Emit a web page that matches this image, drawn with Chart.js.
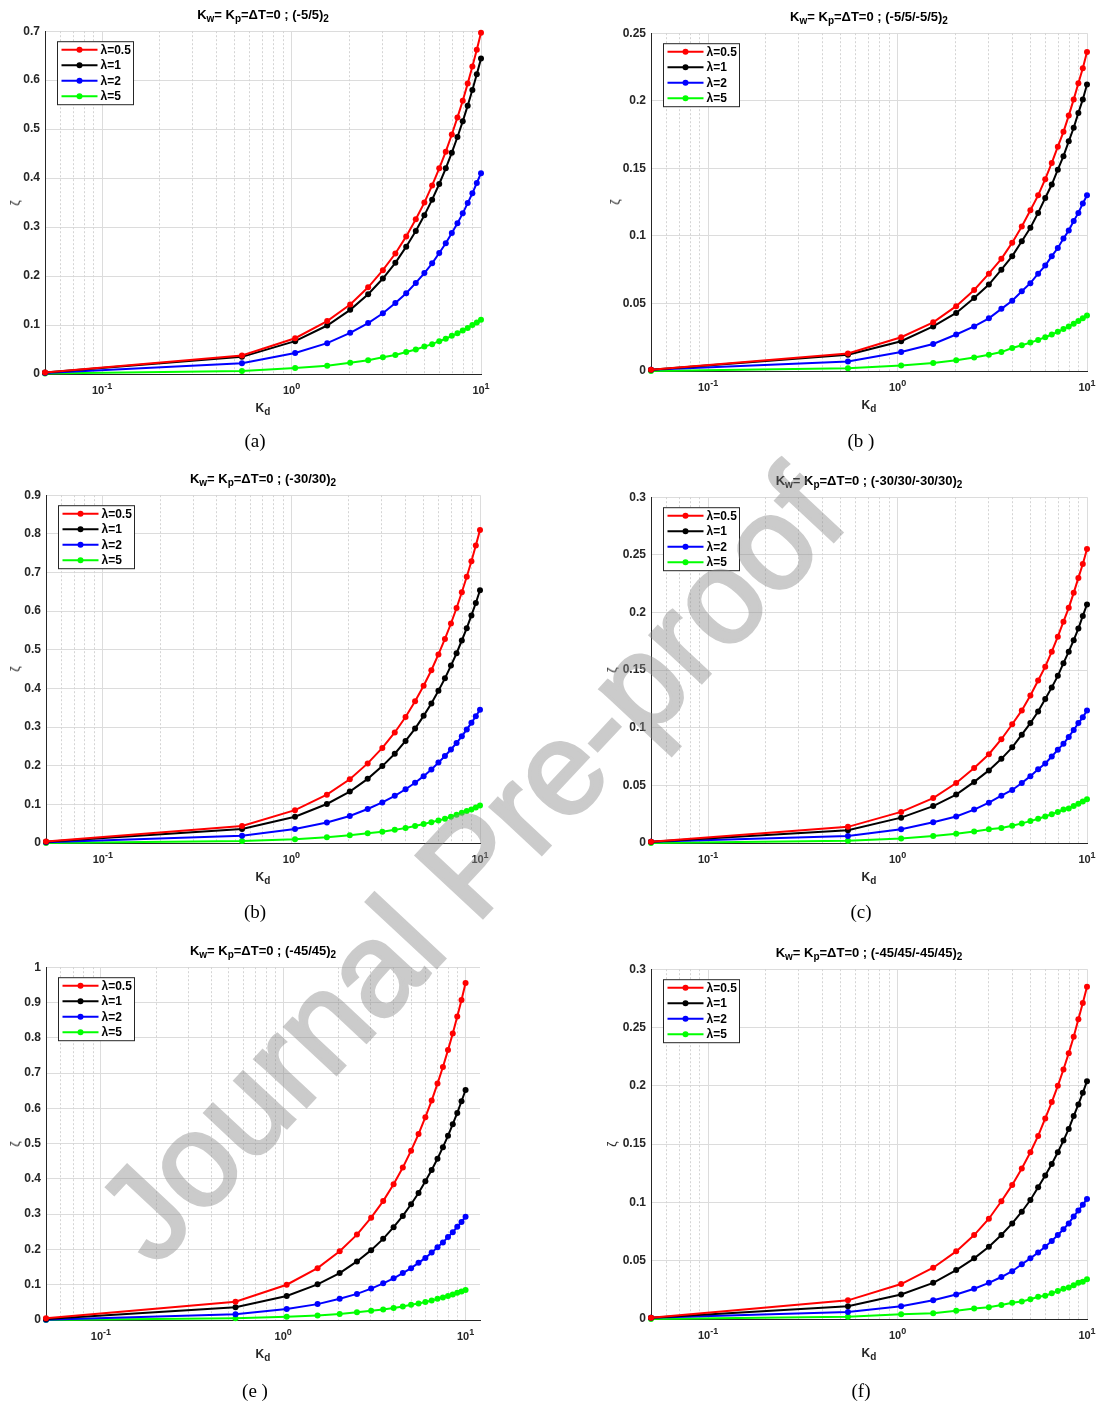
<!DOCTYPE html>
<html>
<head>
<meta charset="utf-8">
<script src="https://cdn.jsdelivr.net/npm/chart.js@4.4.1/dist/chart.umd.min.js"></script>
<style>
  html, body { margin: 0; padding: 0; background: #fff; }
  body { width: 1101px; height: 1408px; position: relative; overflow: hidden;
         font-family: "Liberation Sans", Arial, Helvetica, sans-serif; }
  .panel { position: absolute; }
  .panel canvas { display: block; }
  .ttl { position: absolute; font-weight: bold; font-size: 13px; line-height: 14px; color: #000;
         white-space: nowrap; transform: translateX(-50%); }
  .xl { position: absolute; font-weight: bold; font-size: 12px; line-height: 14px; color: #262626;
        white-space: nowrap; transform: translateX(-50%); }
  .ttl sub, .xl sub { font-size: 10px; vertical-align: -3px; line-height: 0; }
  .yl { position: absolute; font-size: 12px; line-height: 14px; color: #262626;
        transform: translate(-50%, -50%) rotate(-90deg); }
  .cap { position: absolute; font-family: "Liberation Serif", "Times New Roman", serif; font-size: 19px;
         line-height: 22px; color: #000; white-space: pre; transform: translateX(-50%); }
  .wm { position: absolute; left: 470px; top: 865px; font-weight: normal; font-size: 132px; line-height: 1;
        white-space: nowrap; color: rgb(140,140,140); -webkit-text-stroke: 3.5px rgb(140,140,140);
        opacity: 0.45; pointer-events: none;
        transform: translate(-50%, -50%) rotate(-47deg); z-index: 10; }
</style>
</head>
<body>
<div id="fig"></div>
<div class="wm">Journal Pre-proof</div>
<script>
// Kd sample points (shared by every panel)
const kd = [0.05, 0.5475, 1.045, 1.5425, 2.04, 2.5375, 3.035, 3.5325, 4.03, 4.5275, 5.025,
            5.5225, 6.02, 6.5175, 7.015, 7.5125, 8.01, 8.5075, 9.005, 9.5025, 10];

const seriesLabels = ['λ=0.5', 'λ=1', 'λ=2', 'λ=5'];
const layups = ['(-5/5)', '(-5/5/-5/5)', '(-30/30)', '(-30/30/-30/30)', '(-45/45)', '(-45/45/-45/45)'];
const captions = ['(a)', '(b )', '(b)', '(c)', '(e )', '(f)'];

// x-axis decade ticks and their exponents
const xTickValues = [0.1, 1, 10];
const xTickExponents = ['-1', '0', '1'];
const xMinorValues = [0.06, 0.07, 0.08, 0.09, 0.2, 0.3, 0.4, 0.5, 0.6, 0.7, 0.8, 0.9,
                      2, 3, 4, 5, 6, 7, 8, 9];

// y-axis ranges per panel
const yMaxes = [0.7, 0.25, 0.9, 0.3, 1, 0.3];
const ySteps = [0.1, 0.05, 0.1, 0.05, 0.1, 0.05];
const xMaxes = [10, 10, 10, 10, 12, 10];

// zeta values, panel (a) (-5/5)2
const zA_05 = [0.003,0.038,0.073,0.108,0.142,0.177,0.212,0.246,0.281,0.316,0.350,0.385,0.420,0.454,0.489,0.524,0.558,0.593,0.628,0.662,0.697];
const zA_1  = [0.003,0.035,0.067,0.099,0.131,0.163,0.195,0.227,0.260,0.292,0.324,0.356,0.388,0.420,0.452,0.484,0.516,0.548,0.580,0.612,0.644];
const zA_2  = [0.002,0.022,0.043,0.063,0.084,0.104,0.124,0.145,0.165,0.186,0.206,0.226,0.247,0.267,0.288,0.308,0.328,0.349,0.369,0.390,0.410];
const zA_5  = [0.001,0.006,0.012,0.017,0.023,0.028,0.034,0.039,0.045,0.050,0.056,0.061,0.067,0.072,0.078,0.083,0.089,0.094,0.100,0.105,0.111];

// panel (b) (-5/5/-5/5)2
const zB_05 = [0.001,0.013,0.025,0.036,0.048,0.060,0.072,0.083,0.095,0.107,0.119,0.130,0.142,0.154,0.166,0.177,0.189,0.201,0.213,0.224,0.236];
const zB_1  = [0.001,0.012,0.022,0.033,0.043,0.054,0.064,0.075,0.085,0.096,0.106,0.117,0.128,0.138,0.149,0.159,0.170,0.180,0.191,0.201,0.212];
const zB_2  = [0.001,0.007,0.014,0.020,0.027,0.033,0.039,0.046,0.052,0.059,0.065,0.072,0.078,0.085,0.091,0.098,0.104,0.111,0.117,0.124,0.130];
const zB_5  = [0.000,0.002,0.004,0.006,0.008,0.010,0.012,0.014,0.017,0.019,0.021,0.023,0.025,0.027,0.029,0.031,0.033,0.035,0.037,0.039,0.041];

// panel (-30/30)2
const zC_05 = [0.004,0.044,0.085,0.125,0.165,0.206,0.246,0.286,0.326,0.367,0.407,0.447,0.488,0.528,0.568,0.608,0.649,0.689,0.729,0.770,0.810];
const zC_1  = [0.003,0.036,0.068,0.101,0.133,0.166,0.199,0.231,0.264,0.296,0.329,0.361,0.394,0.426,0.459,0.491,0.524,0.556,0.589,0.621,0.654];
const zC_2  = [0.002,0.019,0.036,0.053,0.070,0.088,0.105,0.122,0.139,0.156,0.173,0.190,0.208,0.225,0.242,0.259,0.276,0.294,0.311,0.328,0.345];
const zC_5  = [0.000,0.005,0.010,0.015,0.020,0.025,0.029,0.034,0.039,0.044,0.049,0.054,0.058,0.063,0.068,0.073,0.078,0.083,0.087,0.092,0.097];

// panel (-30/30/-30/30)2
const zD_05 = [0.001,0.014,0.027,0.039,0.052,0.065,0.077,0.090,0.103,0.115,0.128,0.141,0.153,0.166,0.179,0.192,0.204,0.217,0.230,0.242,0.255];
const zD_1  = [0.001,0.011,0.022,0.032,0.042,0.053,0.063,0.073,0.083,0.094,0.104,0.114,0.125,0.135,0.145,0.156,0.166,0.176,0.186,0.197,0.207];
const zD_2  = [0.001,0.006,0.012,0.018,0.023,0.029,0.035,0.041,0.046,0.052,0.058,0.064,0.069,0.075,0.081,0.086,0.092,0.098,0.104,0.109,0.115];
const zD_5  = [0.000,0.002,0.004,0.006,0.008,0.010,0.012,0.013,0.015,0.017,0.019,0.021,0.023,0.025,0.027,0.029,0.030,0.032,0.034,0.036,0.038];

// panel (-45/45)2
const zE_05 = [0.005,0.052,0.100,0.147,0.195,0.242,0.290,0.337,0.385,0.432,0.480,0.527,0.575,0.622,0.670,0.717,0.765,0.812,0.860,0.907,0.955];
const zE_1  = [0.003,0.036,0.068,0.101,0.133,0.166,0.198,0.230,0.263,0.295,0.328,0.360,0.393,0.425,0.457,0.490,0.522,0.555,0.587,0.620,0.652];
const zE_2  = [0.001,0.016,0.031,0.045,0.060,0.074,0.089,0.104,0.118,0.133,0.147,0.162,0.176,0.191,0.206,0.220,0.235,0.249,0.264,0.278,0.293];
const zE_5  = [0.000,0.005,0.009,0.013,0.017,0.022,0.026,0.030,0.034,0.038,0.043,0.047,0.051,0.055,0.060,0.064,0.068,0.072,0.077,0.081,0.085];

// panel (-45/45/-45/45)2
const zF_05 = [0.001,0.016,0.030,0.044,0.058,0.072,0.086,0.101,0.115,0.129,0.143,0.157,0.172,0.186,0.200,0.214,0.228,0.242,0.257,0.271,0.285];
const zF_1  = [0.001,0.011,0.021,0.031,0.042,0.052,0.062,0.072,0.082,0.092,0.102,0.113,0.123,0.133,0.143,0.153,0.163,0.174,0.184,0.194,0.204];
const zF_2  = [0.001,0.006,0.011,0.016,0.021,0.026,0.031,0.036,0.041,0.047,0.052,0.057,0.062,0.067,0.072,0.077,0.082,0.088,0.093,0.098,0.103];
const zF_5  = [0.000,0.002,0.004,0.005,0.007,0.009,0.010,0.012,0.014,0.015,0.017,0.019,0.020,0.022,0.024,0.026,0.027,0.029,0.031,0.032,0.034];

const panelSeries = [
  [zA_05, zA_1, zA_2, zA_5],
  [zB_05, zB_1, zB_2, zB_5],
  [zC_05, zC_1, zC_2, zC_5],
  [zD_05, zD_1, zD_2, zD_5],
  [zE_05, zE_1, zE_2, zE_5],
  [zF_05, zF_1, zF_2, zF_5]
];

// ---- presentation ----
const FONT = '"Liberation Sans", Arial, Helvetica, sans-serif';
const lineColors = ['#ff0000', '#000000', '#0000ff', '#00ff00'];
const AXIS = '#262626';

// plot-area rectangles on the page: [left, top, right, bottom]
const plotRects = [
  [45, 31, 481, 374],
  [651, 33, 1087, 371],
  [46, 495, 480, 843],
  [651, 497, 1087, 843],
  [46, 967, 480, 1320],
  [651, 969, 1087, 1319]
];
const yLabelX = [15, 615, 15, 612, 15, 612];
const captionY = [430, 430, 901, 901, 1380, 1380];

const PAD_L = 45, PAD_T = 12, PAD_R = 14, PAD_B = 30;

const decor = {
  id: 'decor',
  beforeDatasetsDraw(chart) {
    // dotted minor grid lines of the log axis
    const { ctx, chartArea: a } = chart;
    const x = chart.scales.x;
    ctx.save();
    ctx.strokeStyle = '#d4d4d4';
    ctx.lineWidth = 1;
    ctx.setLineDash([2, 2]);
    for (const v of xMinorValues) {
      if (v < x.min || v > x.max) continue;
      const px = Math.round(x.getPixelForValue(v)) + 0.5;
      ctx.beginPath();
      ctx.moveTo(px, a.top);
      ctx.lineTo(px, a.bottom);
      ctx.stroke();
    }
    ctx.restore();
  },
  afterDatasetsDraw(chart) {
    // boxed legend in the upper-left corner of the plot
    const { ctx, chartArea: a } = chart;
    const bx = a.left + 12 + 0.5, by = a.top + 10 + 0.5, bw = 76, bh = 63;
    ctx.save();
    ctx.fillStyle = '#fff';
    ctx.fillRect(bx, by, bw, bh);
    ctx.strokeStyle = AXIS;
    ctx.lineWidth = 1;
    ctx.strokeRect(bx, by, bw, bh);
    chart.data.datasets.forEach((ds, k) => {
      const cy = by + 8 + k * 15.5;
      ctx.strokeStyle = ds.borderColor;
      ctx.lineWidth = 2;
      ctx.beginPath();
      ctx.moveTo(bx + 4, cy);
      ctx.lineTo(bx + 40, cy);
      ctx.stroke();
      ctx.fillStyle = ds.borderColor;
      ctx.beginPath();
      ctx.arc(bx + 22, cy, 3, 0, Math.PI * 2);
      ctx.fill();
      ctx.fillStyle = '#000';
      ctx.font = 'bold 12px ' + FONT;
      ctx.textBaseline = 'middle';
      ctx.textAlign = 'left';
      ctx.fillText(ds.label, bx + 43, cy + 0.5);
    });
    ctx.restore();
  },
  afterDraw(chart) {
    // decade labels 10^n under the x axis
    const { ctx, chartArea: a } = chart;
    const x = chart.scales.x;
    ctx.save();
    ctx.fillStyle = AXIS;
    ctx.textBaseline = 'alphabetic';
    ctx.textAlign = 'left';
    xTickValues.forEach((v, i) => {
      if (v < x.min || v > x.max) return;
      const px = x.getPixelForValue(v);
      ctx.font = 'bold 11px ' + FONT;
      const wb = ctx.measureText('10').width;
      ctx.font = 'bold 9px ' + FONT;
      const we = ctx.measureText(xTickExponents[i]).width;
      const x0 = px - (wb + we) / 2;
      ctx.font = 'bold 11px ' + FONT;
      ctx.fillText('10', x0, a.bottom + 20);
      ctx.font = 'bold 9px ' + FONT;
      ctx.fillText(xTickExponents[i], x0 + wb, a.bottom + 15);
    });
    ctx.restore();
  }
};

const fig = document.getElementById('fig');

panelSeries.forEach((series, p) => {
  const [L, T, R, B] = plotRects[p];
  const W = (R - L) + PAD_L + PAD_R;
  const H = (B - T) + PAD_T + PAD_B;

  const wrap = document.createElement('div');
  wrap.className = 'panel';
  wrap.style.left = (L - PAD_L) + 'px';
  wrap.style.top = (T - PAD_T) + 'px';
  const cv = document.createElement('canvas');
  cv.width = W; cv.height = H;
  cv.style.width = W + 'px'; cv.style.height = H + 'px';
  wrap.appendChild(cv);
  fig.appendChild(wrap);

  const cx = (L + R) / 2;
  const ttl = document.createElement('div');
  ttl.className = 'ttl';
  ttl.style.left = cx + 'px';
  ttl.style.top = (T - 23) + 'px';
  ttl.innerHTML = 'K<sub>w</sub>= K<sub>p</sub>=ΔT=0 ; ' + layups[p] + '<sub>2</sub>';
  fig.appendChild(ttl);

  const xl = document.createElement('div');
  xl.className = 'xl';
  xl.style.left = cx + 'px';
  xl.style.top = (B + 27) + 'px';
  xl.innerHTML = 'K<sub>d</sub>';
  fig.appendChild(xl);

  const yl = document.createElement('div');
  yl.className = 'yl';
  yl.style.left = yLabelX[p] + 'px';
  yl.style.top = ((T + B) / 2) + 'px';
  yl.textContent = 'ζ';
  fig.appendChild(yl);

  const cap = document.createElement('div');
  cap.className = 'cap';
  cap.style.left = (p % 2 === 0 ? 255 : 861) + 'px';
  cap.style.top = captionY[p] + 'px';
  cap.textContent = captions[p];
  fig.appendChild(cap);

  new Chart(cv, {
    type: 'line',
    data: {
      datasets: series.map((vals, k) => ({
        label: seriesLabels[k],
        data: kd.map((xv, i) => ({ x: xv, y: vals[i] })),
        borderColor: lineColors[k],
        backgroundColor: lineColors[k],
        borderWidth: 2,
        pointRadius: 3,
        pointHoverRadius: 3,
        pointBorderWidth: 0,
        tension: 0,
        clip: false
      }))
    },
    options: {
      responsive: false,
      animation: false,
      devicePixelRatio: 1,
      events: [],
      layout: { padding: { left: 0, top: PAD_T, right: PAD_R, bottom: 0 } },
      plugins: { legend: { display: false }, tooltip: { enabled: false } },
      scales: {
        x: {
          type: 'logarithmic',
          min: 0.05,
          max: xMaxes[p],
          afterBuildTicks: s => { s.ticks = xTickValues.filter(v => v <= xMaxes[p]).map(v => ({ value: v })); },
          afterFit: s => { s.height = PAD_B; },
          ticks: { display: false, autoSkip: false },
          grid: { color: '#dcdcdc', lineWidth: 1, drawTicks: false },
          border: { display: true, color: AXIS, width: 1 }
        },
        y: {
          type: 'linear',
          min: 0,
          max: yMaxes[p],
          afterFit: s => { s.width = PAD_L; },
          ticks: {
            stepSize: ySteps[p],
            padding: 5,
            color: AXIS,
            font: { family: FONT, size: 12, weight: 'bold' },
            callback: v => String(Math.round(v * 1000) / 1000)
          },
          grid: { color: '#dcdcdc', lineWidth: 1, drawTicks: false },
          border: { display: true, color: AXIS, width: 1 }
        }
      }
    },
    plugins: [decor]
  });
});
</script>
</body>
</html>
